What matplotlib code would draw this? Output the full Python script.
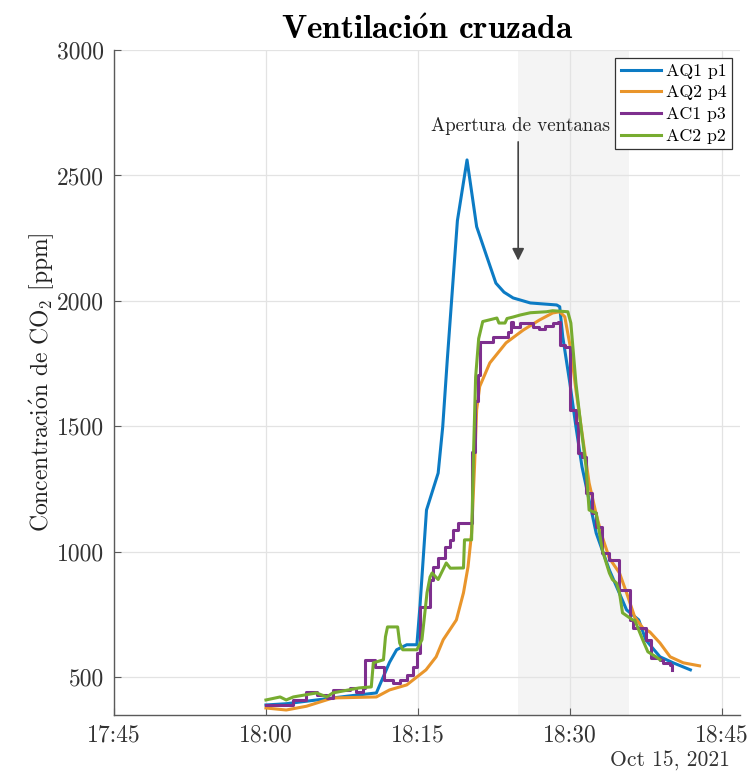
from datetime import datetime, timedelta
import matplotlib
matplotlib.use('Agg')
import matplotlib.pyplot as plt
import matplotlib.dates as mdates

# minutes after 18:00 / CO2 ppm
aq1_min = [0, 2, 5, 8, 10.9, 12.2, 12.9, 13.9, 14.9, 15.2, 15.85, 17.0, 17.45, 17.9, 18.9, 19.85,
           20.8, 21.8, 22.7, 23.5, 24.4, 26.1, 28.7, 29.0, 29.3, 30.0, 30.6, 31.2, 31.9, 32.6,
           33.9, 35.6, 36.8, 37.5, 38.9, 40.2, 41.9]
aq1_ppm = [390, 395, 410, 425, 438, 560, 610, 630, 630, 781, 1167, 1314, 1498, 1765, 2320, 2562,
           2296, 2177, 2071, 2035, 2012, 1992, 1984, 1977, 1857, 1673, 1499, 1339, 1207, 1075,
           928, 769, 729, 649, 582, 558, 530]

aq2_min = [0, 2, 4, 6.6, 10.9, 12.2, 13.9, 15.8, 16.8, 17.5, 18.8, 19.5, 19.95, 20.3, 20.6,
           20.8, 21.1, 22.1, 23.7, 25.4, 27.0, 28.3, 29.0, 29.5, 30.1, 30.6, 31.9, 32.6, 33.2,
           33.9, 34.9, 35.6, 36.4, 37.2, 37.9, 38.9, 39.9, 41.2, 42.8]
aq2_ppm = [378, 370, 385, 418, 422, 450, 470, 530, 582, 650, 729, 837, 941, 1075, 1350,
           1566, 1659, 1753, 1833, 1884, 1924, 1952, 1957, 1937, 1805, 1646, 1275, 1150, 1060,
           975, 916, 837, 741, 697, 681, 637, 582, 558, 546]

ac1_min = [0, 2.4, 2.7, 4.0, 5.0, 6.0, 6.6, 8.3, 8.9, 9.6, 9.8, 10.6, 10.8, 11.6, 11.7, 12.5,
           13.2, 13.9, 14.5, 14.9, 15.2, 16.2, 16.5, 17.0, 17.7, 18.2, 18.5, 19.0, 20.2, 20.3,
           20.6, 20.9, 21.1, 22.4, 23.9, 24.2, 24.4, 25.1, 26.4, 27.0, 27.5, 28.3, 28.8, 29.0,
           29.5, 30.0, 30.6, 30.8, 31.2, 31.6, 32.2, 32.6, 33.2, 33.9, 34.9, 35.9, 36.2, 37.5,
           38.0, 38.9, 39.2, 39.9, 40.1]
ac1_ppm = [388, 390, 410, 443, 430, 418, 450, 458, 442, 458, 570, 570, 542, 542, 490, 478,
           490, 510, 542, 598, 781, 890, 941, 976, 1020, 1048, 1088, 1116, 1116, 1400,
           1600, 1705, 1838, 1858, 1878, 1918, 1898, 1912, 1898, 1890, 1900, 1912, 1918, 1825,
           1818, 1566, 1514, 1394, 1378, 1235, 1155, 1099, 996, 968, 849, 729, 697, 649,
           578, 570, 558, 550, 530]

ac2_min = [0, 1.4, 2.0, 2.7, 5.0, 6.0, 6.6, 9.2, 10.4, 10.6, 11.6, 11.8, 12.0, 13.0, 13.2,
           13.5, 14.9, 15.4, 15.9, 16.2, 16.4, 17.0, 17.8, 18.2, 19.5, 19.6, 20.3, 20.5, 20.7,
           21.0, 21.4, 22.8, 23.0, 23.6, 23.8, 24.4, 25.1, 26.1, 27.7, 28.3, 29.8, 30.1, 30.6,
           31.1, 31.6, 31.9, 32.6, 33.2, 33.9, 34.2, 34.6, 34.9, 35.2, 36.2, 36.4, 37.2, 37.7,
           38.5, 38.9]
ac2_ppm = [410, 422, 410, 422, 438, 422, 438, 458, 462, 558, 570, 662, 701, 701, 637,
           610, 610, 650, 837, 900, 916, 890, 956, 935, 936, 1048, 1048, 1406, 1697,
           1850, 1918, 1932, 1912, 1912, 1930, 1936, 1944, 1953, 1957, 1961, 1957, 1912, 1673,
           1498, 1339, 1167, 1155, 1008, 916, 890, 876, 837, 757, 729, 729, 649, 602,
           582, 570]

labels = ['AQ1 p1', 'AQ2 p4', 'AC1 p3', 'AC2 p2']
colors = ['#0C7BC4', '#E9952B', '#7E2F8E', '#77AC30']

t0 = datetime(2021, 10, 15, 18, 0)
def to_time(mins):
    return [t0 + timedelta(minutes=m) for m in mins]

plt.rcParams['font.family'] = ['cmr10', 'DejaVu Serif']
plt.rcParams['mathtext.fontset'] = 'cm'
plt.rcParams['axes.unicode_minus'] = False

fig = plt.figure(figsize=(7.5, 7.74), dpi=100)
ax = fig.add_axes([0.152, 0.0762, 0.8347, 0.8592])

# window opening period
ax.axvspan(t0 + timedelta(minutes=24.9), t0 + timedelta(minutes=35.8), color='#f4f4f4', zorder=0, lw=0)

ax.plot(to_time(aq1_min), aq1_ppm, color=colors[0], lw=2.2, label=labels[0], zorder=3)
ax.plot(to_time(aq2_min), aq2_ppm, color=colors[1], lw=2.2, label=labels[1], zorder=3)
ax.plot(to_time(ac1_min), ac1_ppm, color=colors[2], lw=2.2, label=labels[2], zorder=3,
        drawstyle='steps-post')
ax.plot(to_time(ac2_min), ac2_ppm, color=colors[3], lw=2.2, label=labels[3], zorder=3)

ax.set_xlim(t0 - timedelta(minutes=15), t0 + timedelta(minutes=46.8))
ax.set_ylim(350, 3000)
ax.set_yticks([500, 1000, 1500, 2000, 2500, 3000])
ax.xaxis.set_major_locator(mdates.MinuteLocator(byminute=[0, 15, 30, 45]))
ax.xaxis.set_major_formatter(mdates.DateFormatter('%H:%M'))

ax.grid(True, color='#e3e3e3', lw=0.9, zorder=1)
ax.set_axisbelow(True)
for s in ['top', 'right']:
    ax.spines[s].set_visible(False)
for s in ['left', 'bottom']:
    ax.spines[s].set_color('#5a5a5a')
    ax.spines[s].set_linewidth(1.0)
ax.tick_params(direction='in', length=5, color='#5a5a5a', labelsize=17, labelcolor='#333333', pad=7)

ax.set_ylabel(r'Concentraci$\mathrm{\acute{o}}$n de CO$_2$ [ppm]', fontsize=17, color='#222222')
ax.yaxis.set_label_coords(-0.115, 0.5)
ax.yaxis.label.set_va('center')
ax.set_title(r'Ventilaci$\mathbf{\acute{o}}$n cruzada', fontsize=24, fontweight='bold',
             family=['cmb10', 'DejaVu Serif'], pad=8)

ax.annotate('', xy=(t0 + timedelta(minutes=24.9), 2150), xytext=(t0 + timedelta(minutes=24.9), 2645),
            arrowprops=dict(arrowstyle='-|>', color='#444444', lw=1.2, mutation_scale=18), zorder=4)
ax.text(t0 + timedelta(minutes=25.1), 2660, 'Apertura de ventanas', ha='center', va='bottom',
        fontsize=13.6, color='#222222', zorder=4)

leg = ax.legend(loc='upper right', fontsize=12.8, frameon=True, fancybox=False,
                handlelength=2.25, borderpad=0.3, labelspacing=0.35, handletextpad=0.3,
                borderaxespad=0.45)
leg.get_frame().set_edgecolor('#333333')
leg.get_frame().set_linewidth(0.9)
leg.get_frame().set_alpha(1)

fig.text(0.973, 0.004, 'Oct 15, 2021', ha='right', va='bottom', fontsize=15.5, color='#333333')

fig.savefig('out.png', dpi=100)
